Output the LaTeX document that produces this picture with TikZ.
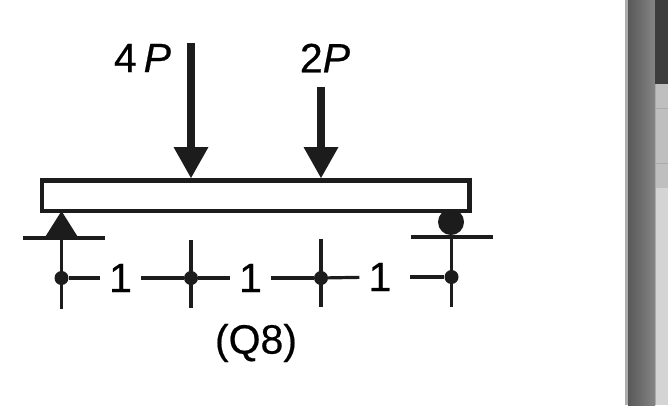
\documentclass[tikz,border=0pt]{standalone}
\usepackage{fontspec}
\setmainfont{Liberation Sans}[FakeBold=0.5]
\usetikzlibrary{arrows.meta, calc}
\definecolor{ink}{HTML}{1C1C1C}

\tikzset{
    beam/.style={draw=ink, line width=4.4pt, fill=white},
    ground/.style={draw=ink, line width=4pt},
    dimline/.style={draw=ink, line width=3.2pt},
    dimdot/.style={circle, fill=ink, inner sep=0pt, minimum size=14pt},
    dimtext/.style={inner sep=0pt, minimum width=41pt, font=\fontsize{41}{41}\selectfont},
    load/.style={draw=ink, line width=8.5pt, -{Triangle[width=35pt, length=31pt, line width=0pt, fill=ink]}},
    loadtext/.style={inner sep=0pt, font=\fontsize{41}{41}\selectfont},
}

\begin{document}
\begin{tikzpicture}[x=1pt, y=-1pt]
    \useasboundingbox (0,0) rectangle (668,405);

    % window edge on the right
    \fill[gray!65] (625,0) rectangle (628,405);
    \shade[left color=black!65, right color=black!48] (628,0) rectangle (655,405);
    \fill[black!25] (655,84) rectangle (668,188);
    \fill[black!17] (655,188) rectangle (668,405);
    \fill[black!76] (655,0) rectangle (668,84);
    \draw[black!33, line width=1pt] (655,108) -- (668,108);
    \draw[black!33, line width=1pt] (655,163) -- (668,163);
    \draw[black!33, line width=1pt] (655,84) -- (655,405);

    % beam and supports
    \node[beam, minimum width=427.5pt, minimum height=30.5pt, inner sep=0pt] (bar) at (255.75,195.75) {};
    \coordinate (pinTop) at (61.5,211);
    \coordinate (pinGround) at (61.5,238);
    \coordinate (rollGround) at (451.5,236.5);
    \fill[ink] (pinTop) -- ($(pinGround)+(-17,0)$) -- ($(pinGround)+(17,0)$) -- cycle;
    \coordinate (pinL) at (23,238);
    \coordinate (pinR) at (105,238);
    \coordinate (rollL) at (411,236.5);
    \coordinate (rollR) at (493,236.5);
    \draw[ground] (pinL) -- (pinR);
    \draw[ground] (rollL) -- (rollR);
    \node[circle, fill=ink, inner sep=0pt, minimum size=26pt] (roller) at (451,222) {};

    % loads
    \coordinate (loadA) at (191,43);
    \coordinate (tipA) at (191,178);
    \coordinate (loadB) at (321,87);
    \coordinate (tipB) at (321,178);
    \draw[load] (loadA) -- (tipA);
    \draw[load] (loadB) -- (tipB);
    \node[loadtext] (labelA) at (142.5,58) {4\,\textit{P}};
    \node[loadtext] (labelB) at (325,58) {2\textit{P}};

    % dimension marks
    \node[dimdot] (d1) at (61.5,278) {};
    \node[dimdot] (d2) at (191,278) {};
    \node[dimdot] (d3) at (321,278) {};
    \node[dimdot] (d4) at (451.5,277) {};
    \coordinate (e1) at (61.5,309);
    \coordinate (s2) at (191,240);
    \coordinate (e2) at (191,308);
    \coordinate (s3) at (321,239);
    \coordinate (e3) at (321,307);
    \coordinate (e4) at (451.5,307);
    \draw[dimline] (pinGround) -- (e1);
    \draw[dimline] (s2) -- (e2);
    \draw[dimline] (s3) -- (e3);
    \draw[dimline] (rollGround) -- (e4);
    \node[dimtext] (n1) at (120.5,278) {1};
    \node[dimtext] (n2) at (250.5,278) {1};
    \node[dimtext] (n3) at (380,277) {1};
    \draw[dimline] (d1) -- (n1);
    \draw[dimline] (n1) -- (d2);
    \draw[dimline] (d2) -- (n2);
    \draw[dimline] (n2) -- (d3);
    \draw[dimline] (d3) -- (n3);
    \draw[dimline, shorten <=9.5pt] (n3) -- (d4);

    \node[inner sep=0pt, font=\fontsize{41}{41}\selectfont] (caption) at (256,343) {(Q8)};
\end{tikzpicture}
\end{document}
